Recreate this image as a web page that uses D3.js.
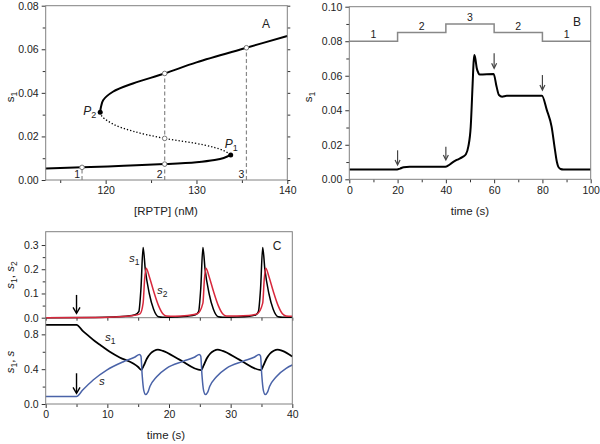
<!DOCTYPE html>
<html><head><meta charset="utf-8">
<script src="https://cdn.jsdelivr.net/npm/d3@7/dist/d3.min.js"></script>
<style>
body{margin:0;background:#fff}
text{font-family:"Liberation Sans",Arial,sans-serif;font-size:10px;fill:#222}
</style></head><body>
<svg id="c" width="600" height="444"></svg>
<script>
// ---------- Panel A data ----------
const lowerBranch = [[113.4,0.0053],[117.4,0.0058],[122,0.0065],[126.5,0.0073],[130,0.0082],[132,0.0092],[133,0.0101],[133.77,0.0115]];
const unstableBranch = [[119.4,0.0311],[119.6,0.0292],[120.8,0.0257],[123.0,0.0224],[126.5,0.0191],[130.8,0.0161],[133.0,0.0135],[133.77,0.0115]];
const upperBranch = [[119.4,0.0311],[119.5,0.0338],[119.74,0.0367],[120.8,0.0405],[123.0,0.0443],[126.5,0.0489],[130,0.0540],[135.5,0.0607],[140,0.0661]];
const foldPoints = [["P","2",119.4,0.0311],["P","1",133.77,0.0115]];
const rptpLevels = ["1","2","3"];
const rptpValues = [117.4,126.5,135.5];
const rptpTops = [0.0058,0.0489,0.0607];
const steadyMarks = [[117.4,0.0058],[126.5,0.0073],[126.5,0.0191],[126.5,0.0489],[135.5,0.0607]];
const xTicksA = [120,130,140], xMinorA = [115,125,135];
const yTicksA = [0,0.02,0.04,0.06,0.08], yMinorA = [0.01,0.03,0.05,0.07];

// ---------- Panel B data ----------
const stepTimes = [0,20,20,40,40,60,60,80,80,100];
const stepLevels = [0.08,0.08,0.085,0.085,0.09,0.09,0.085,0.085,0.08,0.08];
const stepLabels = ["1","2","3","2","1"];
const stepLabelTimes = [10,30,50,70,90];
const stepLabelLevels = [0.08,0.085,0.09,0.085,0.08];
const courseB = [[0,0.0057],[19.8,0.0057],[21,0.0062],[22.5,0.0070],[25,0.0073],[39.8,0.0073],[41,0.0080],[42.5,0.0095],[44.5,0.0112],[47,0.0130],[48.3,0.0145],[49.3,0.0189],[50.3,0.0305],[51.1,0.0556],[51.5,0.0680],[51.8,0.0720],[52.2,0.0700],[52.8,0.0643],[53.5,0.0615],[54.1,0.0607],[59.8,0.0610],[61,0.0537],[62,0.0488],[63.3,0.0479],[65.2,0.0484],[79.8,0.0484],[81.8,0.0402],[83.8,0.0305],[85.2,0.0170],[86.0,0.0100],[86.6,0.0072],[87.5,0.0060],[88.7,0.0057],[100,0.0057]];
const arrowsB = [[20,0.0168,0.0083],[40,0.0189,0.0112],[60,0.0730,0.0643],[80,0.0604,0.0517]];
const xTicksB = [0,20,40,60,80,100], xMinorB = [10,30,50,70,90];
const yTicksB = [0,0.02,0.04,0.06,0.08,0.10], yMinorB = [0.01,0.03,0.05,0.07,0.09];

// ---------- Panel C data ----------
const s1Top = [[0,0],[8,0.001],[11,0.003],[13,0.006],[14.5,0.012],[15.1,0.025],[15.45,0.12],[15.8,0.29],[16.15,0.2],[16.8,0.1],[17.5,0.035],[18.3,0.004],[19,0.002],[21,0.003],[23,0.006],[24.3,0.012],[24.8,0.025],[25.15,0.12],[25.5,0.29],[25.85,0.2],[26.5,0.1],[27.2,0.035],[28,0.004],[28.7,0.002],[31,0.003],[33,0.006],[34.1,0.012],[34.5,0.025],[34.85,0.12],[35.2,0.29],[35.55,0.2],[36.2,0.1],[36.9,0.035],[37.7,0.004],[38.4,0.002],[40,0.002]];
const s2Top = [[0,0],[8,0.001],[12,0.004],[14,0.008],[15.3,0.016],[15.8,0.06],[16.05,0.16],[16.3,0.204],[16.8,0.17],[17.5,0.11],[18.3,0.05],[19,0.016],[19.6,0.007],[21,0.006],[23,0.009],[24.6,0.016],[25.5,0.06],[25.75,0.16],[26.0,0.204],[26.5,0.17],[27.2,0.11],[28,0.05],[28.7,0.016],[29.3,0.007],[31,0.007],[33,0.009],[34.3,0.016],[35.2,0.06],[35.45,0.16],[35.7,0.204],[36.2,0.17],[36.9,0.11],[37.7,0.05],[38.4,0.016],[39,0.007],[40,0.006]];
const s1Bottom = [[0,0.91],[5,0.91],[6,0.84],[7,0.78],[8,0.72],[9,0.67],[10.4,0.60],[12,0.535],[14.2,0.465],[15.0,0.425],[15.5,0.392],[15.9,0.44],[16.4,0.52],[17,0.58],[17.6,0.612],[18.2,0.625],[19,0.61],[21.7,0.51],[25.2,0.39],[25.6,0.44],[26.1,0.52],[26.7,0.58],[27.3,0.612],[27.9,0.625],[28.7,0.61],[31.4,0.51],[34.9,0.39],[35.3,0.44],[35.8,0.52],[36.4,0.58],[37,0.612],[37.6,0.625],[38.4,0.61],[40,0.545]];
const sBottom = [[0,0.085],[5,0.085],[6,0.16],[7.7,0.276],[9.9,0.39],[12.6,0.486],[14.5,0.54],[15.2,0.568],[15.45,0.55],[15.65,0.33],[15.9,0.16],[16.2,0.11],[16.6,0.14],[16.9,0.2],[18,0.314],[19.6,0.41],[22.3,0.49],[24.2,0.54],[24.9,0.568],[25.15,0.55],[25.35,0.33],[25.6,0.16],[25.9,0.11],[26.3,0.14],[26.6,0.2],[27.7,0.314],[29.3,0.41],[32,0.49],[33.9,0.54],[34.6,0.568],[34.85,0.55],[35.05,0.33],[35.3,0.16],[35.6,0.11],[36,0.14],[36.3,0.2],[37.4,0.314],[39,0.41],[40,0.448]];
const arrowTopC = [5,0.094,0.018];
const arrowBottomC = [5,0.353,0.123];
const xTicksC = [0,10,20,30,40], xMinorC = [5,15,25,35];
const yTicksCt = [0,0.1,0.2,0.3], yMinorCt = [0.05,0.15,0.25];
const yTicksCb = [0,0.4,0.8], yMinorCb = [0.2,0.6];

// ---------- drawing ----------
const svg = d3.select("#c");
svg.append("rect").attr("width",600).attr("height",444).attr("fill","#fff");
const frameCol = "#808080";

function axis(g, gen, scale, major, minor, fmt, majLen, minLen, transform){
  const a = g.append("g").attr("transform", transform)
    .call(gen(scale).tickValues(major).tickSize(majLen).tickPadding(3).tickFormat(fmt));
  a.select(".domain").remove();
  a.selectAll("line").attr("stroke","#333");
  a.selectAll("text").style("font-size","10.5px").attr("fill","#222");
  const b = g.append("g").attr("transform", transform)
    .call(gen(scale).tickValues(minor).tickSize(minLen).tickFormat(""));
  b.select(".domain").remove();
  b.selectAll("line").attr("stroke","#333");
}
function frame(x0,y0,x1,y1){
  svg.append("rect").attr("x",x0).attr("y",y0).attr("width",x1-x0).attr("height",y1-y0)
    .attr("fill","none").attr("stroke",frameCol).attr("stroke-width",1);
}
function rotLabel(g, x, y, parts){
  const t = g.append("text").attr("text-anchor","middle")
    .attr("transform", `translate(${x},${y}) rotate(-90)`).style("font-size","11.5px");
  parts.forEach(p=>{
    const s = t.append("tspan").text(p.t);
    if(p.it) s.style("font-style","italic");
    if(p.sub) s.attr("dy",3).style("font-size","8.5px");
    if(p.up) s.attr("dy",-3);
  });
  return t;
}
function arrow(g, x, y0, y1, col, w, hw, hl){
  g.append("line").attr("x1",x).attr("x2",x).attr("y1",y0).attr("y2",y1-1).attr("stroke",col).attr("stroke-width",w);
  g.append("path").attr("d",`M${x-hw},${y1-hl} L${x},${y1} L${x+hw},${y1-hl}`).attr("fill","none").attr("stroke",col).attr("stroke-width",w);
}
function itLabel(g,x,y,base,sub){
  const t = g.append("text").attr("x",x).attr("y",y).style("font-size","11.5px");
  t.append("tspan").text(base).style("font-style","italic");
  if(sub) t.append("tspan").text(sub).attr("dy",3).style("font-size","8.5px");
  return t;
}

// ===== Panel A =====
const xA = d3.scaleLinear([113.4,140],[45.7,287.3]);
const yA = d3.scaleLinear([0,0.08],[180,5.7]);
const gA = svg.append("g");
frame(45.7,5.7,287.3,180);
axis(gA, d3.axisLeft, yA, yTicksA, yMinorA, d3.format(".2f"), 4, 3, "translate(45.7,0)");
axis(gA, d3.axisBottom, xA, xTicksA, xMinorA, d3.format("d"), 4, 3, "translate(0,180)");
axis(gA, d3.axisRight, yA, [], yTicksA.concat(yMinorA), null, 0, 3, "translate(287.3,0)");
const lineA = d3.line().x(d=>xA(d[0])).y(d=>yA(d[1])).curve(d3.curveCatmullRom.alpha(0.5));
rptpValues.forEach((v,i)=>{
  gA.append("line").attr("x1",xA(v)).attr("x2",xA(v)).attr("y1",yA(0)).attr("y2",yA(rptpTops[i]))
    .attr("stroke","#888").attr("stroke-width",1.2).attr("stroke-dasharray","4,2.5");
  gA.append("text").attr("x",xA(v)-2).attr("y",yA(0)-2).attr("text-anchor","end").style("font-size","10.5px").text(rptpLevels[i]);
});
gA.append("path").attr("d",lineA(lowerBranch)).attr("fill","none").attr("stroke","#000").attr("stroke-width",2);
gA.append("path").attr("d",lineA(upperBranch)).attr("fill","none").attr("stroke","#000").attr("stroke-width",2);
gA.append("path").attr("d",lineA(unstableBranch)).attr("fill","none").attr("stroke","#000").attr("stroke-width",1.3).attr("stroke-dasharray","1.3,2");
steadyMarks.forEach(d=>gA.append("circle").attr("cx",xA(d[0])).attr("cy",yA(d[1])).attr("r",2.3).attr("fill","#fff").attr("stroke","#777").attr("stroke-width",1));
foldPoints.forEach((d,i)=>{
  gA.append("circle").attr("cx",xA(d[2])).attr("cy",yA(d[3])).attr("r",2.5).attr("fill","#000");
  const t = gA.append("text").attr("x", i===0 ? xA(d[2])-4 : xA(d[2])-6).attr("y", i===0 ? yA(d[3])+3 : yA(d[3])-7)
    .attr("text-anchor", i===0?"end":"start").style("font-size","12px");
  t.append("tspan").text(d[0]).style("font-style","italic");
  t.append("tspan").text(d[1]).attr("dy",3).style("font-size","9px");
});
gA.append("text").attr("x",266).attr("y",28).attr("text-anchor","middle").style("font-size","12px").text("A");
gA.append("text").attr("x",166).attr("y",215).attr("text-anchor","middle").style("font-size","11.5px").text("[RPTP] (nM)");
rotLabel(gA, 14, 97, [{t:"s"},{t:"1",sub:true}]);

// ===== Panel B =====
const xB = d3.scaleLinear([0,100],[349.3,590.7]);
const yB = d3.scaleLinear([0,0.1],[179.3,6.7]);
const gB = svg.append("g");
frame(349.3,6.7,590.7,179.3);
axis(gB, d3.axisLeft, yB, yTicksB, yMinorB, d3.format(".2f"), 4, 3, "translate(349.3,0)");
axis(gB, d3.axisBottom, xB, xTicksB, xMinorB, d3.format("d"), 4, 3, "translate(0,179.3)");
const stepLine = d3.line().x((d,i)=>xB(stepTimes[i])).y((d,i)=>yB(stepLevels[i]));
gB.append("path").attr("d",stepLine(stepTimes)).attr("fill","none").attr("stroke","#888").attr("stroke-width",1.5);
stepLabels.forEach((s,i)=>gB.append("text").attr("x",xB(stepLabelTimes[i])).attr("y",yB(stepLabelLevels[i])-3).attr("text-anchor","middle").style("font-size","10.5px").text(s));
const lineB = d3.line().x(d=>xB(d[0])).y(d=>yB(d[1])).curve(d3.curveMonotoneX);
gB.append("path").attr("d",lineB(courseB)).attr("fill","none").attr("stroke","#000").attr("stroke-width",2);
arrowsB.forEach(d=>arrow(gB, xB(d[0]), yB(d[1]), yB(d[2]), "#444", 1.2, 2.5, 5));
gB.append("text").attr("x",577).attr("y",26).attr("text-anchor","middle").style("font-size","12px").text("B");
gB.append("text").attr("x",470).attr("y",215).attr("text-anchor","middle").style("font-size","11.5px").text("time (s)");
rotLabel(gB, 312, 97, [{t:"s"},{t:"1",sub:true}]);

// ===== Panel C =====
const xC = d3.scaleLinear([0,40],[45.7,292.3]);
const yCt = d3.scaleLinear([0,0.355],[317.7,231.7]);
const yCb = d3.scaleLinear([0,0.95],[404,321.3]);
const gC = svg.append("g");
frame(45.7,231.7,292.3,404);
gC.append("line").attr("x1",45.7).attr("x2",292.3).attr("y1",317.7).attr("y2",317.7).attr("stroke",frameCol);
axis(gC, d3.axisLeft, yCt, yTicksCt, yMinorCt, d3.format(".1f"), 4, 3, "translate(45.7,0)");
axis(gC, d3.axisLeft, yCb, yTicksCb, yMinorCb, d3.format(".1f"), 4, 3, "translate(45.7,0)");
axis(gC, d3.axisBottom, xC, [], xTicksC.concat(xMinorC), null, 0, 3, "translate(0,317.7)");
axis(gC, d3.axisBottom, xC, xTicksC, xMinorC, d3.format("d"), 4, 3, "translate(0,404)");
const lineCt = d3.line().x(d=>xC(d[0])).y(d=>yCt(d[1])).curve(d3.curveMonotoneX);
const lineCb = d3.line().x(d=>xC(d[0])).y(d=>yCb(d[1])).curve(d3.curveMonotoneX);
gC.append("path").attr("d",lineCt(s1Top)).attr("fill","none").attr("stroke","#000").attr("stroke-width",1.5);
gC.append("path").attr("d",lineCt(s2Top)).attr("fill","none").attr("stroke","#d8283c").attr("stroke-width",1.5);
gC.append("path").attr("d",lineCb(s1Bottom)).attr("fill","none").attr("stroke","#000").attr("stroke-width",1.8);
gC.append("path").attr("d",lineCb(sBottom)).attr("fill","none").attr("stroke","#4a63a8").attr("stroke-width",1.5);
arrow(gC, xC(arrowTopC[0]), yCt(arrowTopC[1]), yCt(arrowTopC[2]), "#000", 1.4, 3.5, 6);
arrow(gC, xC(arrowBottomC[0]), yCb(arrowBottomC[1]), yCb(arrowBottomC[2]), "#000", 1.4, 3.5, 6);
gC.append("text").attr("x",277).attr("y",250).attr("text-anchor","middle").style("font-size","12px").text("C");
itLabel(gC,129,262,"s","1");
itLabel(gC,157,294,"s","2");
itLabel(gC,105,341,"s","1");
itLabel(gC,99,385,"s",null);
rotLabel(gC, 14, 275, [{t:"s",it:true},{t:"1",sub:true},{t:", ",up:true},{t:"s",it:true},{t:"2",sub:true}]);
rotLabel(gC, 14, 362, [{t:"s",it:true},{t:"1",sub:true},{t:", ",up:true},{t:"s",it:true}]);
gC.append("text").attr("x",166).attr("y",439).attr("text-anchor","middle").style("font-size","11.5px").text("time  (s)");
</script></body></html>
